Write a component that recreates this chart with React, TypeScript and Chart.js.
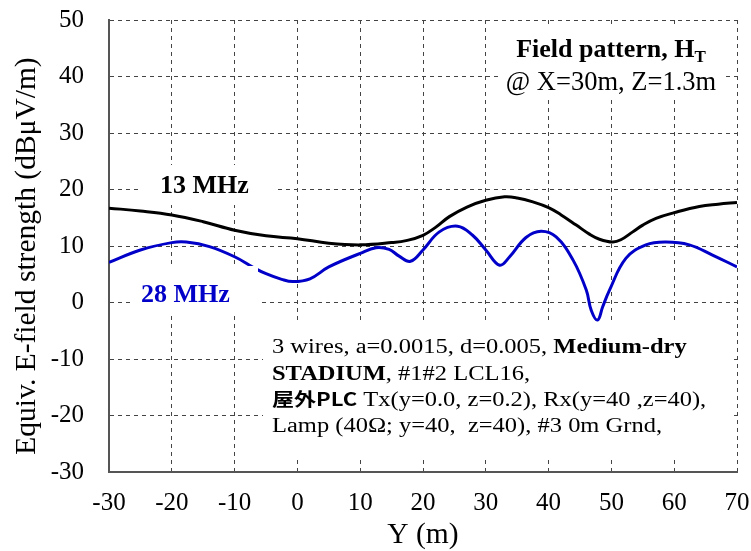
import React, { useEffect, useRef } from 'react';
import { Chart, registerables } from 'chart.js';

Chart.register(...registerables);

// ---- data ----
const yPos13 = [-30, -25, -20, -15, -10, -5, 0, 5, 10, 15, 17.5, 20, 22, 24.2, 27, 30, 33, 35, 37.5, 40, 42, 44.4, 46.5, 48.1, 50.2, 51.5, 53.4, 55, 57.1, 60, 64, 67, 70];
const field13 = [16.7, 16.2, 15.5, 14.3, 12.8, 11.8, 11.3, 10.5, 10.2, 10.6, 11.0, 11.9, 13.3, 15.2, 16.9, 18.1, 18.7, 18.5, 17.8, 16.8, 15.5, 13.7, 12.1, 11.2, 10.7, 11.1, 12.5, 13.7, 14.9, 15.9, 17.0, 17.4, 17.7];

const yPos28 = [-30, -25, -20, -17.7, -14, -10, -7, -5, -2.5, -0.7, 2, 5, 10, 12.5, 14.6, 16.2, 18, 20, 22.6, 25.5, 27.9, 30, 32.2, 33.8, 36.4, 38.8, 41.2, 43.9, 46, 46.8, 47.8, 48.6, 49.7, 52.3, 55.5, 58.7, 62.4, 66.1, 70];
const field28 = [7.1, 9.3, 10.6, 10.7, 9.9, 8.1, 6.2, 5.1, 4.1, 3.7, 4.2, 6.3, 8.7, 9.7, 9.4, 8.2, 7.3, 9.3, 12.5, 13.5, 11.9, 9.3, 6.6, 8.1, 11.5, 12.6, 11.6, 7.5, 2.2, -1.4, -3.1, -0.8, 2.2, 7.8, 10.2, 10.7, 10.2, 8.4, 6.3];

const seriesNames = ['13 MHz', '28 MHz'];
const xRange = [-30, 70];
const yRange = [-30, 50];
const tickStep = 10;

const xTitle = 'Y (m)';
const yTitle = 'Equiv. E-field strength (dBμV/m)';
const titleLine1 = 'Field pattern, H';
const titleSub = 'T';
const titleLine2 = '@ X=30m, Z=1.3m';

const SERIF = "'Liberation Serif', 'Times New Roman', serif";
const CJK = "'Noto Sans CJK JP', 'Noto Sans CJK SC', sans-serif";
const BLUE = '#0000c8';

type Run = { t: string; font: string; color?: string; dy?: number };

const noteLines: Run[][] = [
  [
    { t: '3 wires, a=0.0015, d=0.005, ', font: `20px ${SERIF}` },
    { t: 'Medium-dry', font: `bold 20px ${SERIF}` },
  ],
  [
    { t: 'STADIUM', font: `bold 20px ${SERIF}` },
    { t: ', #1#2 LCL16,', font: `20px ${SERIF}` },
  ],
  [
    { t: '屋外PLC', font: `bold 18px ${CJK}` },
    { t: ' Tx(y=0.0, z=0.2), Rx(y=40 ,z=40),', font: `20px ${SERIF}` },
  ],
  [{ t: 'Lamp (40Ω; y=40,  z=40), #3 0m Grnd,', font: `20px ${SERIF}` }],
];
const noteX = 272;
const noteRefEnd = 662; // end of the last line
const noteBaselines = [353, 380, 406, 432];

function measureRuns(ctx: CanvasRenderingContext2D, runs: Run[]) {
  let w = 0;
  for (const r of runs) {
    ctx.font = r.font;
    w += ctx.measureText(r.t).width;
  }
  return w;
}

function drawRuns(ctx: CanvasRenderingContext2D, runs: Run[], x: number, y: number, scaleX = 1) {
  ctx.save();
  ctx.translate(x, y);
  ctx.scale(scaleX, 1);
  ctx.textBaseline = 'alphabetic';
  ctx.textAlign = 'left';
  let cx = 0;
  for (const r of runs) {
    ctx.font = r.font;
    ctx.fillStyle = r.color || '#000';
    ctx.fillText(r.t, cx, r.dy || 0);
    cx += ctx.measureText(r.t).width;
  }
  ctx.restore();
}

const boxPlugin = {
  id: 'boxes',
  beforeDatasetsDraw(chart: any) {
    const ctx = chart.ctx as CanvasRenderingContext2D;
    ctx.save();
    ctx.fillStyle = '#fff';
    ctx.fillRect(500, 28, 225, 72); // title box
    ctx.fillRect(140, 165, 137, 40); // 13 MHz label box
    ctx.fillRect(263, 322, 471, 136); // note box
    ctx.restore();
  },
  afterDatasetsDraw(chart: any) {
    const ctx = chart.ctx as CanvasRenderingContext2D;
    ctx.save();
    ctx.fillStyle = '#fff';
    ctx.fillRect(133, 266, 125, 47); // 28 MHz label box
    ctx.restore();

    drawRuns(ctx, [{ t: seriesNames[0], font: `bold 26px ${SERIF}` }], 160, 193);
    drawRuns(ctx, [{ t: seriesNames[1], font: `bold 26px ${SERIF}`, color: BLUE }], 141, 302);

    const t1: Run[] = [
      { t: titleLine1, font: `bold 26px ${SERIF}` },
      { t: titleSub, font: `bold 17px ${SERIF}`, dy: 5 },
    ];
    const w1 = measureRuns(ctx, t1);
    drawRuns(ctx, t1, 611 - w1 / 2, 57);
    const t2: Run[] = [{ t: titleLine2, font: `26.5px ${SERIF}` }];
    const w2 = measureRuns(ctx, t2);
    drawRuns(ctx, t2, 611 - w2 / 2, 90);

    const sx = (noteRefEnd - noteX) / measureRuns(ctx, noteLines[3]);
    noteLines.forEach((runs, i) => {
      drawRuns(ctx, runs, noteX, noteBaselines[i], sx);
    });

    ctx.save();
    ctx.font = `29.5px ${SERIF}`;
    ctx.fillStyle = '#000';
    ctx.textAlign = 'center';
    ctx.textBaseline = 'middle';
    ctx.fillText(xTitle, 423, 535);
    ctx.translate(27, 256);
    ctx.rotate(-Math.PI / 2);
    ctx.fillText(yTitle, 0, 0);
    ctx.restore();
  },
};

export default function App() {
  const ref = useRef<HTMLCanvasElement>(null);
  useEffect(() => {
    if (!ref.current) return;
    const chart = new Chart(ref.current, {
      type: 'line',
      data: {
        datasets: [
          {
            label: seriesNames[0],
            data: yPos13.map((x, i) => ({ x, y: field13[i] })),
            borderColor: '#000',
            borderWidth: 3,
            pointRadius: 0,
            tension: 0.4,
            fill: false,
          },
          {
            label: seriesNames[1],
            data: yPos28.map((x, i) => ({ x, y: field28[i] })),
            borderColor: BLUE,
            borderWidth: 3,
            pointRadius: 0,
            tension: 0.4,
            fill: false,
          },
        ],
      },
      options: {
        animation: false,
        responsive: false,
        maintainAspectRatio: false,
        layout: { padding: { left: 0, right: 14, top: 20, bottom: 0 } },
        plugins: { legend: { display: false }, tooltip: { enabled: false }, title: { display: false } },
        scales: {
          x: {
            type: 'linear',
            min: xRange[0],
            max: xRange[1],
            ticks: {
              stepSize: tickStep,
              padding: 16,
              color: '#000',
              font: { family: SERIF, size: 25 },
              maxRotation: 0,
            },
            grid: { color: '#444', lineWidth: 1, drawTicks: false },
            border: { color: '#555', width: 2, dash: [4, 4] },
            afterFit: (s: any) => {
              s.height = 79;
              s.paddingLeft = 0;
              s.paddingRight = 0;
            },
          },
          y: {
            type: 'linear',
            min: yRange[0],
            max: yRange[1],
            ticks: {
              stepSize: tickStep,
              padding: 25,
              color: '#000',
              font: { family: SERIF, size: 25 },
            },
            grid: { color: '#444', lineWidth: 1, drawTicks: false },
            border: { color: '#555', width: 2, dash: [4, 4] },
            afterFit: (s: any) => {
              s.width = 109;
              s.paddingTop = 0;
              s.paddingBottom = 0;
            },
          },
        },
      } as any,
      plugins: [boxPlugin],
    });
    return () => chart.destroy();
  }, []);
  return (
    <div style={{ position: 'absolute', left: 0, top: 0, width: 751, height: 551, background: '#fff' }}>
      <canvas ref={ref} width={751} height={551} style={{ width: 751, height: 551, display: 'block' }} />
    </div>
  );
}
